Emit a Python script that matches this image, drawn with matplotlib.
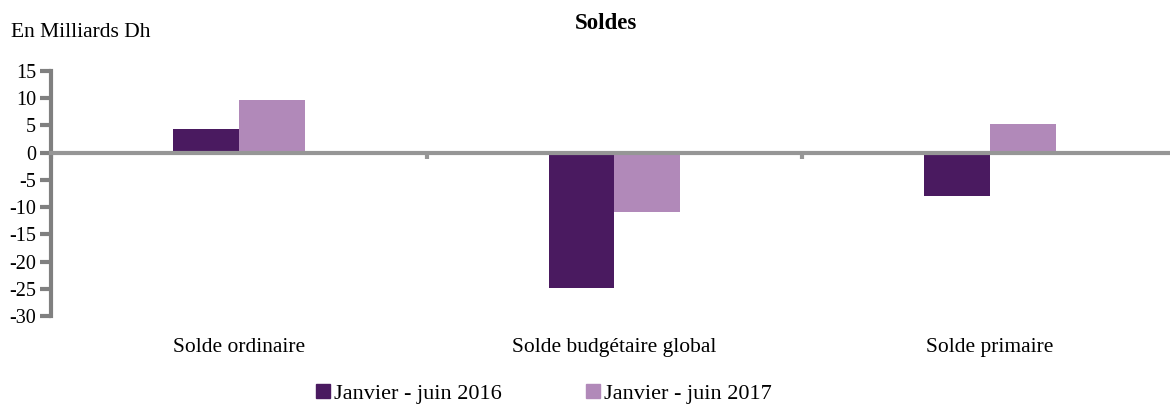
import matplotlib.pyplot as plt
from matplotlib.transforms import blended_transform_factory
from matplotlib.patches import Patch
import numpy as np

categories = ['Solde ordinaire', 'Solde budgétaire global', 'Solde primaire']
series_names = ['Janvier - juin 2016', 'Janvier - juin 2017']
values_2016 = [4.4, -24.9, -8.0]
values_2017 = [9.6, -10.9, 5.2]
colors = ['#4a1a60', '#b189b9']

plt.rcParams['font.family'] = ['Liberation Serif', 'DejaVu Serif']
plt.rcParams['axes.unicode_minus'] = False

fig = plt.figure(figsize=(11.7, 4.05), dpi=100)
ax = fig.add_axes([0.0438, 0.2198, 0.9628, 0.6049])

x = np.arange(len(categories))
w = 0.175
ax.bar(x - w / 2, values_2016, width=w, color=colors[0], zorder=1)
ax.bar(x + w / 2, values_2017, width=w, color=colors[1], zorder=1)

ax.set_xlim(-0.5, len(categories) - 0.5)
ax.set_ylim(-30, 15)
ax.set_yticks(np.arange(-30, 16, 5))

for s in ['top', 'right']:
    ax.spines[s].set_visible(False)
ax.spines['left'].set_color('#808080')
ax.spines['left'].set_linewidth(3)
ax.spines['bottom'].set_position(('data', 0))
ax.spines['bottom'].set_color('#969696')
ax.spines['bottom'].set_linewidth(3)
ax.spines['bottom'].set_zorder(3)

ax.set_xticks(np.arange(-0.5, len(categories), 1.0))
ax.set_xticklabels([])
ax.tick_params(axis='x', direction='out', length=4, width=3, color='#969696')
ax.tick_params(axis='y', direction='out', length=8, width=3, color='#808080',
               labelsize=14.5, pad=3)

trans = blended_transform_factory(ax.transData, ax.transAxes)
for xi, label in zip(x, categories):
    ax.text(xi, -0.13, label, transform=trans, ha='center', va='center', fontsize=15.5)

fig.text(0.518, 0.942, 'Soldes', ha='center', va='center', fontsize=16.5, fontweight='bold')
fig.text(0.009, 0.92, 'En Milliards Dh', ha='left', va='center', fontsize=15.5)

handles = [Patch(color=c) for c in colors]
fig.legend(handles, series_names, loc='center', bbox_to_anchor=(0.465, 0.027), ncol=2,
           frameon=False, fontsize=16, handlelength=0.6, handleheight=0.6,
           handletextpad=0.2, columnspacing=3.8)

fig.savefig('out.png', dpi=100)
